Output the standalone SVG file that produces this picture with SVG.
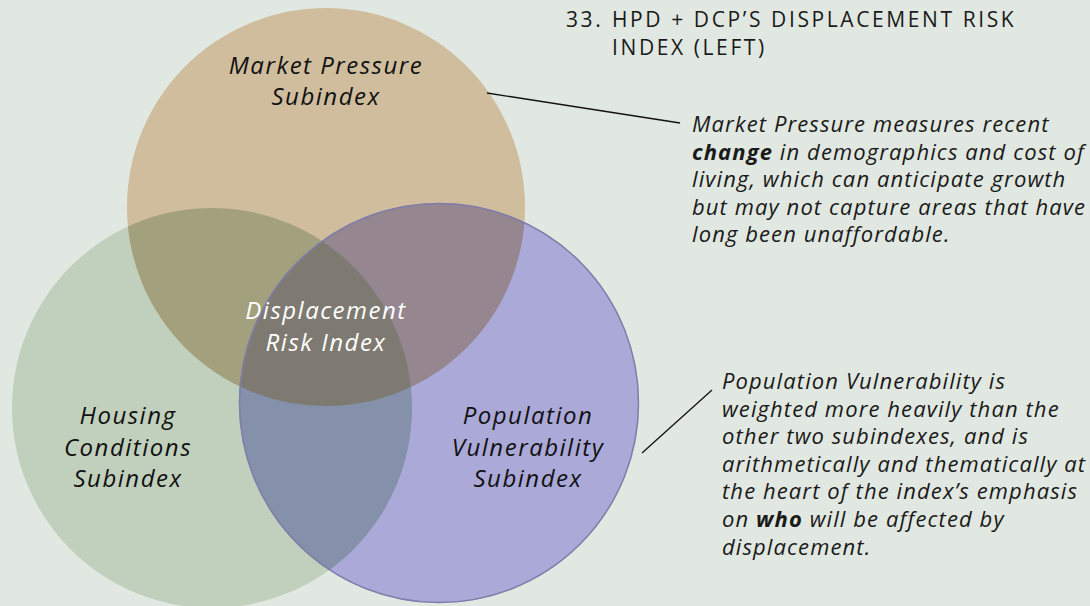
<svg xmlns="http://www.w3.org/2000/svg" width="1090" height="606" viewBox="0 0 1090 606">
<style>
.lbl{font-family:"Open Sans","Liberation Sans",sans-serif;font-style:italic;font-size:24px;letter-spacing:1.5px;fill:#111;text-anchor:middle}
.ctr{fill:#ffffff}
.body{font-family:"Open Sans","Liberation Sans",sans-serif;font-style:italic;font-size:22px;letter-spacing:1.1px;fill:#1a1a1a}
.b{font-weight:bold}
.title{font-family:"Open Sans","Liberation Sans",sans-serif;font-size:21px;letter-spacing:2.6px;fill:#1a1a1a}
.conn{stroke:#111;stroke-width:1.3;fill:none}
</style>
<defs>
<clipPath id="clipT"><circle cx="326" cy="207" r="199"/></clipPath>
<clipPath id="clipG"><circle cx="212" cy="408" r="200"/></clipPath>
<clipPath id="clipTG" clip-path="url(#clipT)"><circle cx="212" cy="408" r="200"/></clipPath>
</defs>
<rect width="1090" height="606" fill="#e1e8e1"/>
<g id="node-housing"><circle cx="212" cy="408" r="200" fill="#c0d0bc"/></g>
<g id="node-market"><circle cx="326" cy="207" r="199" fill="#cfbd9d"/></g>
<g id="node-population"><circle cx="439" cy="403" r="200" fill="#aaa9d8"/></g>
<g id="overlaps">
<circle cx="212" cy="408" r="200" fill="#a3a07e" clip-path="url(#clipT)"/>
<circle cx="439" cy="403" r="200" fill="#958690" clip-path="url(#clipT)"/>
<circle cx="439" cy="403" r="200" fill="#8590aa" clip-path="url(#clipG)"/>
<circle cx="439" cy="403" r="200" fill="#7e7a72" clip-path="url(#clipTG)"/>
<circle cx="439" cy="403" r="199.5" fill="none" stroke="#7f7ea8" stroke-width="1.5"/>
</g>
<g id="labels">
<text class="lbl" x="326" y="74">Market Pressure</text>
<text class="lbl" x="326" y="105">Subindex</text>
<text class="lbl" x="128" y="424">Housing</text>
<text class="lbl" x="128" y="456">Conditions</text>
<text class="lbl" x="128" y="487">Subindex</text>
<text class="lbl" x="528" y="424">Population</text>
<text class="lbl" x="528" y="456">Vulnerability</text>
<text class="lbl" x="528" y="487">Subindex</text>
</g>
<g id="node-center">
<text class="lbl ctr" x="326" y="319">Displacement</text>
<text class="lbl ctr" x="326" y="351">Risk Index</text>
</g>
<g id="connectors">
<line class="conn" x1="487" y1="93" x2="680" y2="123"/>
<line class="conn" x1="642" y1="453" x2="712" y2="390"/>
</g>
<g id="title">
<text class="title" x="566" y="27">33.</text>
<text class="title" x="612" y="27">HPD + DCP’S DISPLACEMENT RISK</text>
<text class="title" x="612" y="55">INDEX (LEFT)</text>
</g>
<g id="note-market">
<text class="body" x="692" y="132">Market Pressure measures recent</text>
<text class="body" x="692" y="159.5"><tspan class="b">change</tspan> in demographics and cost of</text>
<text class="body" x="692" y="187">living, which can anticipate growth</text>
<text class="body" x="692" y="214.5">but may not capture areas that have</text>
<text class="body" x="692" y="242">long been unaffordable.</text>
</g>
<g id="note-population">
<text class="body" x="722" y="389">Population Vulnerability is</text>
<text class="body" x="722" y="416.6">weighted more heavily than the</text>
<text class="body" x="722" y="444.2">other two subindexes, and is</text>
<text class="body" x="722" y="471.8">arithmetically and thematically at</text>
<text class="body" x="722" y="499.4">the heart of the index’s emphasis</text>
<text class="body" x="722" y="527">on <tspan class="b">who</tspan> will be affected by</text>
<text class="body" x="722" y="554.6">displacement.</text>
</g>
</svg>
